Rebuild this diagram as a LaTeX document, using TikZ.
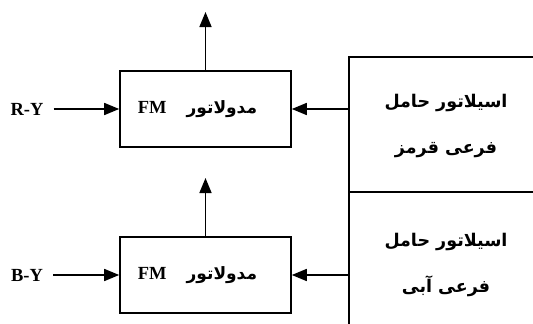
\documentclass[tikz,border=0pt]{standalone}
\usepackage{fontspec}
\setmainfont{Liberation Serif}
\newfontfamily\arabicfont[Script=Arabic]{DejaVu Sans}
\TeXXeTstate=1
\usetikzlibrary{arrows.meta}

\tikzset{
  modbox/.style={draw,line width=1.6pt,minimum width=171pt,minimum height=76pt},
  osc/.style={align=center,font=\arabicfont\fontsize{17.5}{46}\selectfont\bfseries},
  sig/.style={line width=1.6pt,-{Triangle[length=15pt,width=12pt]}},
}

\begin{document}
\begin{tikzpicture}[x=1pt,y=-1pt,font=\fontsize{18.5}{22}\selectfont\bfseries]
  \useasboundingbox (0,0) rectangle (533,324);
  \clip (0,0) rectangle (533,324);
  % carrier oscillators
  \draw[line width=1.6pt] (349,324) -- (349,57) -- (540,57);
  \draw[line width=1.6pt] (349,192) -- (540,192);
  \node[osc] (oscr) at (446,126) {\beginR اسیلاتور حامل\endR\\\beginR فرعی قرمز\endR};
  \node[osc] (oscb) at (446,265) {\beginR اسیلاتور حامل\endR\\\beginR فرعی آبی\endR};
  \foreach \y/\s/\n in {109/R-Y/r, 275/B-Y/b} {
    \node[modbox] (mod\n) at (205.5,\y) {FM\hspace{20pt}{\arabicfont\fontsize{17}{22}\selectfont\beginR مدولاتور\endR}\kern16pt};
    \node[inner xsep=0pt] (in\n) at (27,\y) {\s};
    \coordinate (tap\n) at (349,\y);
    \coordinate (out\n) at (205.5,\y-97);
    \draw[sig] ([xshift=10pt]in\n.east) -- (mod\n);
    \draw[sig] (tap\n) -- (mod\n);
    \draw[sig] (mod\n) -- (out\n);
  }
\end{tikzpicture}
\end{document}
